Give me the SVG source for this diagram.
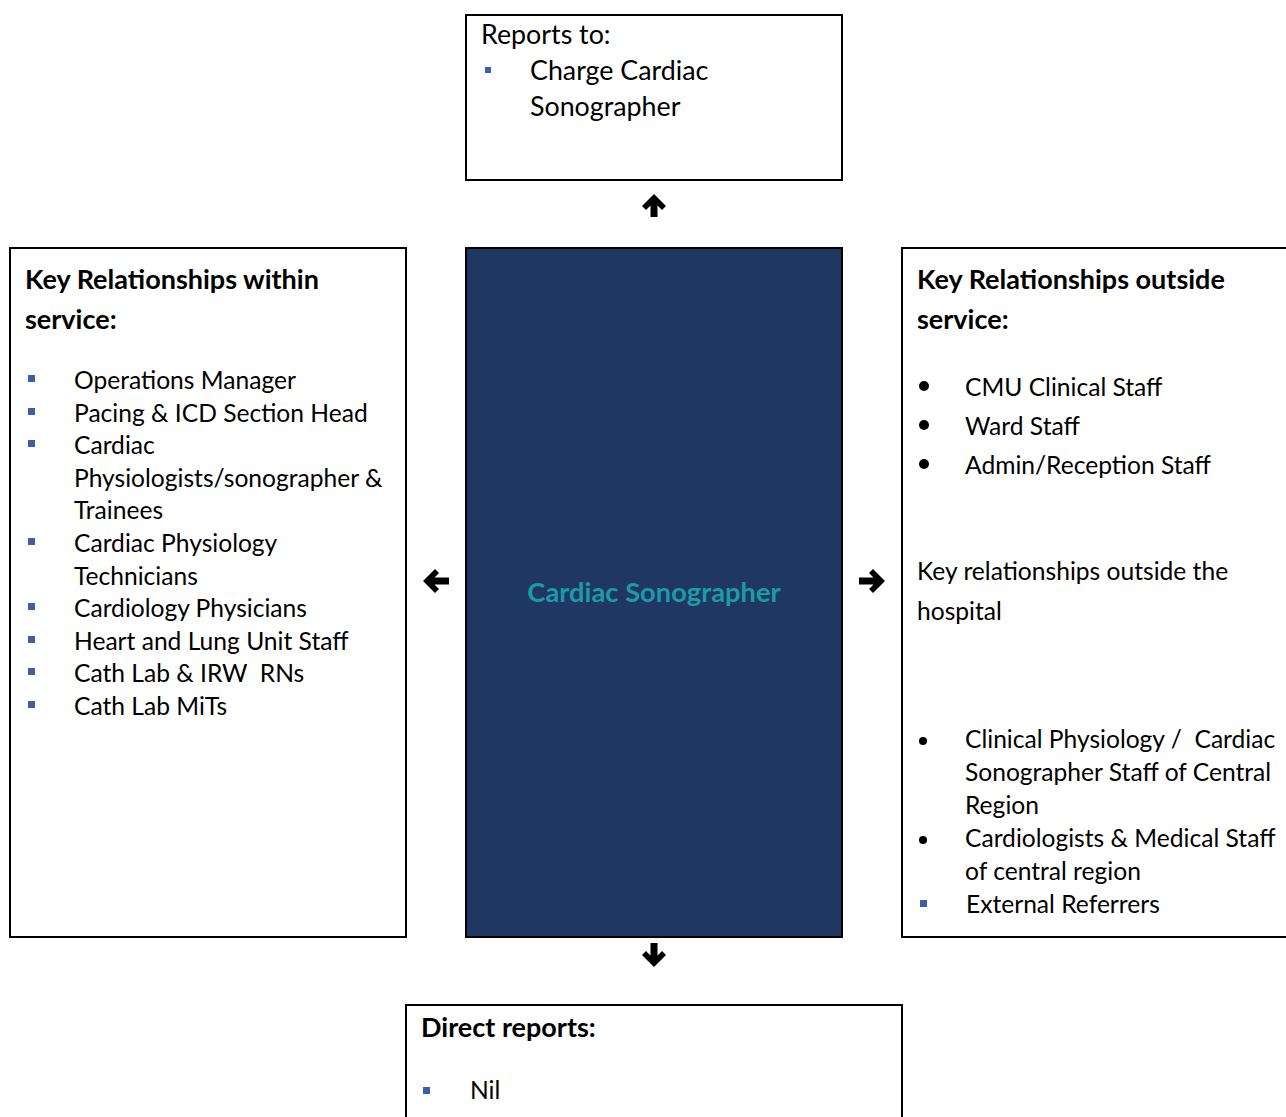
<svg xmlns="http://www.w3.org/2000/svg" width="1286" height="1117" viewBox="0 0 1286 1117">
<style>
.box{fill:#fff;stroke:#000;stroke-width:2}
.core{fill:#213763;stroke:#000;stroke-width:2}
text{font-family:Lato,"Open Sans",sans-serif;font-size:24.6px;fill:#000;white-space:pre}
.lg{font-size:26.8px}
.b{font-weight:bold;font-size:27px}
.title{font-weight:bold;fill:#1a9ba8;font-size:27.3px}
.sq{fill:#3c5fa6}
.arr{fill:#000}
</style>
<rect width="1286" height="1117" fill="#fff"/>
<g id="reports-to">
<rect class="box" x="466" y="15" width="376" height="165"/>
<text class="lg" x="481" y="44">Reports to:</text>
<rect class="sq" x="485" y="67" width="6" height="6"/>
<text class="lg" x="530" y="80">Charge Cardiac</text>
<text class="lg" x="530" y="116">Sonographer</text>
</g>
<g id="within-service">
<rect class="box" x="10" y="248" width="396" height="689"/>
<text class="b" x="25" y="289">Key Relationships within</text>
<text class="b" x="25" y="329">service:</text>
<rect class="sq" x="28" y="375" width="7" height="7"/>
<text x="74" y="389">Operations Manager</text>
<rect class="sq" x="28" y="408" width="7" height="7"/>
<text x="74" y="422">Pacing &amp; ICD Section Head</text>
<rect class="sq" x="28" y="440" width="7" height="7"/>
<text x="74" y="454">Cardiac</text>
<text x="74" y="487">Physiologists/sonographer &amp;</text>
<text x="74" y="519">Trainees</text>
<rect class="sq" x="28" y="538" width="7" height="7"/>
<text x="74" y="552">Cardiac Physiology</text>
<text x="74" y="585">Technicians</text>
<rect class="sq" x="28" y="603" width="7" height="7"/>
<text x="74" y="617">Cardiology Physicians</text>
<rect class="sq" x="28" y="636" width="7" height="7"/>
<text x="74" y="650">Heart and Lung Unit Staff</text>
<rect class="sq" x="28" y="668" width="7" height="7"/>
<text x="74" y="682">Cath Lab &amp; IRW  RNs</text>
<rect class="sq" x="28" y="701" width="7" height="7"/>
<text x="74" y="715">Cath Lab MiTs</text>
</g>
<g id="cardiac-sonographer">
<rect class="core" x="466" y="248" width="376" height="689"/>
<text class="title" x="654" y="602" text-anchor="middle">Cardiac Sonographer</text>
</g>
<g id="outside-service">
<rect class="box" x="902" y="248" width="400" height="689"/>
<text class="b" x="917" y="289">Key Relationships outside</text>
<text class="b" x="917" y="329">service:</text>
<circle cx="924" cy="386" r="5"/>
<text x="965" y="396">CMU Clinical Staff</text>
<circle cx="924" cy="425" r="5"/>
<text x="965" y="435">Ward Staff</text>
<circle cx="924" cy="464" r="5"/>
<text x="965" y="474">Admin/Reception Staff</text>
<text x="917" y="580">Key relationships outside the</text>
<text x="917" y="620">hospital</text>
<circle cx="923" cy="741" r="4"/>
<text x="965" y="748">Clinical Physiology /  Cardiac</text>
<text x="965" y="781">Sonographer Staff of Central</text>
<text x="965" y="814">Region</text>
<circle cx="923" cy="840" r="4"/>
<text x="965" y="847">Cardiologists &amp; Medical Staff</text>
<text x="965" y="880">of central region</text>
<rect class="sq" x="920" y="900" width="7" height="7"/>
<text x="966" y="913">External Referrers</text>
</g>
<g id="direct-reports">
<rect class="box" x="406" y="1005" width="496" height="130"/>
<text class="b" x="421" y="1037">Direct reports:</text>
<rect class="sq" x="423" y="1087" width="7" height="7"/>
<text x="470" y="1099">Nil</text>
</g>
<g id="connectors">
<path class="arr" d="M654,194 L666,206 L662,210 L657.5,205.5 L657.5,217 L650.5,217 L650.5,205.5 L646,210 L642,206 Z"/>
<path class="arr" d="M654,967 L666,955 L662,951 L657.5,955.5 L657.5,943 L650.5,943 L650.5,955.5 L646,951 L642,955 Z"/>
<path class="arr" d="M423,581 L435,569 L439,573 L434.5,577.5 L449,577.5 L449,584.5 L434.5,584.5 L439,589 L435,593 Z"/>
<path class="arr" d="M885,581 L873,569 L869,573 L873.5,577.5 L859,577.5 L859,584.5 L873.5,584.5 L869,589 L873,593 Z"/>
</g>
</svg>
